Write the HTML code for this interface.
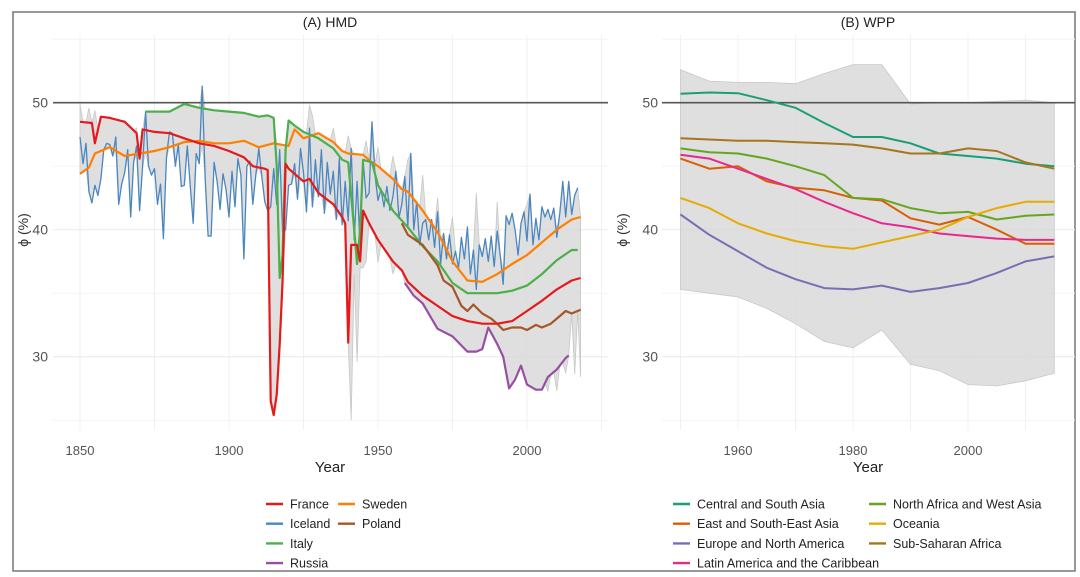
<!DOCTYPE html>
<html><head><meta charset="utf-8"><style>
body{margin:0;background:#fff}
svg{display:block;font-family:"Liberation Sans",sans-serif}
</style></head><body>
<svg id="c" width="1080" height="577" viewBox="0 0 1080 577">
<rect x="13" y="12" width="1062" height="559" fill="#fff" stroke="#777" stroke-width="1.5"/>
<g id="pa"></g>
<g id="pb"></g>
<g id="legA"></g>
<g id="legB"></g>
</svg>
<script>
// ===== Panel A data (HMD) =====
const franceYears=[1850,1854,1855,1857,1860,1865,1869,1870,1871,1875,1880,1885,1890,1895,1900,1905,1908,1912,1913,1914,1915,1916,1917,1918,1919,1920,1925,1927,1930,1935,1938,1939,1940,1941,1943,1944,1945,1947,1950,1955,1958,1960,1965,1970,1975,1980,1985,1990,1995,2000,2005,2010,2015,2018];
const franceVals=[48.5,48.4,46.8,48.9,48.8,48.5,47.6,45.6,47.9,47.7,47.6,47.2,46.8,46.6,46.2,45.7,45.0,44.8,44.7,26.5,25.4,27,31,36,45.2,44.8,43.8,44,42.9,42,41,40.5,31.1,38.8,38.8,37.5,41.5,40.5,39.2,37.5,36.8,35.9,34.8,34.0,33.2,32.8,32.6,32.6,32.8,33.6,34.4,35.3,36.0,36.2];
const italyYears=[1872,1875,1880,1885,1890,1895,1900,1905,1910,1913,1915,1916,1917,1918,1919,1920,1922,1925,1930,1935,1938,1940,1942,1943,1944,1945,1948,1950,1955,1960,1965,1970,1975,1980,1985,1990,1995,2000,2005,2010,2015,2017];
const italyVals=[49.3,49.3,49.3,49.9,49.6,49.4,49.3,49.2,48.9,49,48.8,45,36.2,38,46.3,48.6,48.2,47.7,47.2,46.4,45.5,45.3,40,37.3,40,45.5,45.3,43.5,41.5,40.2,38.7,37.5,35.8,35.0,35.0,35.0,35.2,35.6,36.5,37.6,38.4,38.4];
const swedenYears=[1850,1853,1855,1860,1865,1870,1875,1880,1885,1890,1895,1900,1905,1910,1915,1920,1922,1925,1930,1935,1938,1940,1945,1948,1950,1955,1958,1960,1965,1970,1975,1980,1985,1990,1995,2000,2005,2010,2015,2018];
const swedenVals=[44.4,44.9,46,46.5,45.8,46.0,46.2,46.5,46.9,47.0,46.8,46.8,47.0,46.5,46.8,46.6,47.9,47.2,47.6,46.9,46.2,46.0,45.9,45.3,45.0,44.0,43.2,43.0,41.5,39.8,37.5,36.0,35.9,36.5,37.3,38.0,39.0,40.0,40.8,41.0];
const polandYears=[1958,1960,1965,1970,1972,1975,1978,1980,1982,1985,1988,1990,1992,1995,1998,2000,2003,2005,2008,2010,2013,2015,2018];
const polandVals=[40.5,39.6,38.8,37.2,36.0,35.5,34.0,33.6,34.1,33.4,33.0,32.6,32.1,32.3,32.3,32.1,32.5,32.3,32.6,33.0,33.6,33.4,33.7];
const russiaYears=[1959,1962,1965,1970,1975,1980,1983,1985,1987,1990,1992,1994,1996,1998,2000,2003,2005,2007,2010,2013,2014];
const russiaVals=[35.8,34.8,34.2,32.2,31.6,30.4,30.4,30.6,32.3,31.0,30.0,27.5,28.2,29.3,27.8,27.4,27.4,28.4,29.0,29.9,30.1];
const icelandStart=1850;
const icelandVals=[47.3,45.2,46.8,43,42.1,43.5,42.7,44,46.3,46.8,46.7,45.8,47.3,42,43.6,44.5,46.3,41,45.3,46.6,41.5,45,49.3,45,44.3,44.8,42,43.6,39.3,45.6,47.7,47.6,45,46.7,43.4,43.5,46.6,43.4,40.5,46,45.2,51.3,44,39.5,39.5,45.3,43.8,41.6,44.4,43.2,41,44.6,41.8,45.6,44.3,37.7,45,45.4,42,44.3,46.4,44.2,42.2,41.5,41.8,44.8,42,46.3,39.8,40,43.5,43.6,45.2,42.4,46.4,44.5,41.4,48.0,41.8,45.5,42.6,46.3,41.3,45.3,42.8,44.6,40.8,45.6,40.4,43.8,40.7,46.4,39.2,43.8,38.7,45.5,42.5,42.9,48.5,44.3,42.3,43.2,41.8,43.4,41.5,42.6,44.6,40.9,42.0,44.2,40.2,46.0,40,42.2,38.8,40.5,40.8,39.2,40.8,38.6,41.4,37.3,39.7,37.7,39.6,37.3,38.3,37,39.4,37.7,40.2,36.5,38.4,35.3,38.8,37.9,39.3,37.5,39.5,37.1,39.9,38.0,35.7,41.1,40.4,41.3,40.0,38.0,40.5,41.4,39.1,42.8,38.8,40.9,39.2,41.8,41.0,41.6,40.8,41.7,39.4,41.3,43.8,41.0,43.8,41.2,42.7,43.3];
const bandHiYears=[1850,1853,1855,1860,1865,1869,1871,1927,1928,1935,1940,1946,1950,1955,1960,1965,1970,1975,1980,1983,1990,2000,2018];
const bandHiVals=[49.9,49.6,49.4,48.9,48.6,48.0,47.8,49.8,49.0,48.0,47.4,47.0,46.5,45.8,45.5,44.3,42.5,41.0,40.3,42.9,42.2,42.0,40.3];
const bandLoYears=[1940,1941,1942,1943,1944,1945,1946,1950,1955,2007,2010,2013,2016,2018];
const bandLoVals=[35,25,36.5,29.6,37,37,37.5,37.4,36.5,27.3,27.3,28.7,28.6,28.4];

// ===== Panel B data (WPP) =====
const wppYears=[1950,1955,1960,1965,1970,1975,1980,1985,1990,1995,2000,2005,2010,2015];
const centralSouthAsia=[50.7,50.8,50.75,50.2,49.6,48.4,47.3,47.3,46.8,46.0,45.8,45.6,45.2,45.0];
const subSaharanAfrica=[47.2,47.1,47.0,47.0,46.9,46.8,46.7,46.4,46.0,46.0,46.4,46.2,45.3,44.8];
const northAfricaWestAsia=[46.4,46.1,46.0,45.6,45.0,44.3,42.5,42.4,41.7,41.3,41.4,40.8,41.1,41.2];
const eastSouthEastAsia=[45.6,44.8,45.0,43.8,43.3,43.1,42.5,42.3,40.9,40.4,41.0,40.0,38.9,38.9];
const latinAmerica=[45.9,45.6,44.8,44.0,43.2,42.2,41.3,40.5,40.2,39.7,39.5,39.3,39.2,39.2];
const oceania=[42.5,41.7,40.5,39.7,39.1,38.7,38.5,39.0,39.5,40.0,41.0,41.7,42.2,42.2];
const europeNorthAmerica=[41.2,39.6,38.3,37.0,36.1,35.4,35.3,35.6,35.1,35.4,35.8,36.6,37.5,37.9];
const wppBandHi=[52.6,51.7,51.6,51.6,51.5,52.3,53.0,53.0,49.9,50.0,50.0,50.1,50.2,50.0];
const wppBandLo=[35.3,35.0,34.7,33.8,32.6,31.2,30.7,32.1,29.4,28.9,27.8,27.7,28.1,28.7];
const yTicks=[30,40,50];
const xTicksA=[1850,1900,1950,2000];
const xTicksB=[1960,1980,2000];

const NS="http://www.w3.org/2000/svg";
function mk(tag,attrs,parent){const e=document.createElementNS(NS,tag);for(const k in attrs)e.setAttribute(k,attrs[k]);parent.appendChild(e);return e;}
const yS=v=>102.7+(50-v)*12.7;
const xA=y=>80+(y-1850)*2.98;
const xB=y=>738+(y-1960)*5.75;
function interp(years,vals,y){if(y<years[0]||y>years[years.length-1])return null;for(let i=0;i<years.length-1;i++){if(y>=years[i]&&y<=years[i+1]){const t=(y-years[i])/(years[i+1]-years[i]);return vals[i]+t*(vals[i+1]-vals[i]);}}return vals[vals.length-1];}
function pathD(xs,ys){return xs.map((x,i)=>(i?'L':'M')+x.toFixed(1)+','+ys[i].toFixed(1)).join('');}

function panelFrame(g,x0,x1,xf,vx,xticks,title,titleX,ylabX,ytickX){
  // gridlines
  [25,35,45,55].forEach(v=>{const l=mk('line',{x1:x0,x2:x1,y1:yS(v),y2:yS(v),stroke:'#f3f3f3','stroke-width':1},g);
    
    });
  vx.forEach(y=>{const l=mk('line',{x1:xf(y),x2:xf(y),y1:35,y2:yS(24.2),stroke:'#f0f0f0','stroke-width':1},g);
    
    });
  yTicks.forEach(v=>{const l=mk('line',{x1:x0,x2:x1,y1:yS(v),y2:yS(v),stroke:'#ebebeb','stroke-width':1.2},g);
    
    
    const t=mk('text',{x:ytickX,y:yS(v)+5,'text-anchor':'end','font-size':14,fill:'#555'},g);t.textContent=v;
    
    });
  xticks.forEach(y=>{const t=mk('text',{x:xf(y),y:455,'text-anchor':'middle','font-size':13,fill:'#555'},g);t.textContent=y;
    
    });
  const tt=mk('text',{x:titleX,y:27,'text-anchor':'middle','font-size':14,fill:'#222'},g);tt.textContent=title;
  
  
  const xl=mk('text',{x:titleX,y:472,'text-anchor':'middle','font-size':15,fill:'#222'},g);xl.textContent='Year';
  
  
  const yl=mk('text',{x:ylabX,y:230,'text-anchor':'middle','font-size':14,fill:'#333',transform:`rotate(-90 ${ylabX} 230)`},g);yl.textContent='ϕ (%)';
  
  
}

// Panel A
const ga=document.getElementById('pa');
const vxA=[];for(let y=1850;y<=2025;y+=25)vxA.push(y);
panelFrame(ga,53,608,xA,vxA,xTicksA,'(A) HMD',330,28,48);
const seriesA=[
 {n:'France',ys:franceYears,vs:franceVals,c:'#e41a1c',w:2.2},
 {n:'Iceland',ys:icelandVals.map((v,i)=>icelandStart+i),vs:icelandVals,c:'#4a86c0',w:1.3},
 {n:'Italy',ys:italyYears,vs:italyVals,c:'#4daf4a',w:2.2},
 {n:'Russia',ys:russiaYears,vs:russiaVals,c:'#984ea3',w:2.2},
 {n:'Sweden',ys:swedenYears,vs:swedenVals,c:'#ff7f00',w:2.2},
 {n:'Poland',ys:polandYears,vs:polandVals,c:'#a65628',w:2.2}];
// band envelope
const hiX=[],hiY=[],loY=[];
for(let y=1850;y<=2018;y++){
  let hi=-1e9,lo=1e9;
  seriesA.forEach(s=>{const v=interp(s.ys,s.vs,y);if(v!==null){hi=Math.max(hi,v);lo=Math.min(lo,v);}});
  const ei=bandHiYears.indexOf(y);if(ei>=0)hi=Math.max(hi,bandHiVals[ei]);
  const li=bandLoYears.indexOf(y);if(li>=0)lo=Math.min(lo,bandLoVals[li]);
  hiX.push(xA(y));hiY.push(yS(hi));loY.push(yS(lo));
}
const bandA=mk('path',{d:pathD(hiX,hiY)+pathD(hiX.slice().reverse(),loY.slice().reverse()).replace('M','L')+'Z',fill:'#d9d9d9','fill-opacity':0.85,stroke:'#c8c8c8','stroke-width':0.8},ga);


const refA=mk('line',{x1:53,x2:608,y1:yS(50),y2:yS(50),stroke:'#555','stroke-width':1.6},ga);


[1,4,2,5,3,0].forEach(i=>{const s=seriesA[i];
  const p=mk('path',{d:pathD(s.ys.map(xA),s.vs.map(yS)),fill:'none',stroke:s.c,'stroke-width':s.w,'stroke-linejoin':'round'},ga);
  
  });

// Panel B
const gb=document.getElementById('pb');
const vxB=[];for(let y=1950;y<=2020;y+=10)vxB.push(y);
panelFrame(gb,662,1075,xB,vxB,xTicksB,'(B) WPP',868,627,658);
const bxs=wppYears.map(xB);
const bandB=mk('path',{d:pathD(bxs,wppBandHi.map(yS))+pathD(bxs.slice().reverse(),wppBandLo.slice().reverse().map(yS)).replace('M','L')+'Z',fill:'#d9d9d9','fill-opacity':0.85,stroke:'#c8c8c8','stroke-width':0.8},gb);


const refB=mk('line',{x1:662,x2:1075,y1:yS(50),y2:yS(50),stroke:'#555','stroke-width':1.6},gb);


const seriesB=[
 {n:'Central and South Asia',v:centralSouthAsia,c:'#1b9e77'},
 {n:'East and South-East Asia',v:eastSouthEastAsia,c:'#d95f02'},
 {n:'Europe and North America',v:europeNorthAmerica,c:'#7570b3'},
 {n:'Latin America and the Caribbean',v:latinAmerica,c:'#e7298a'},
 {n:'North Africa and West Asia',v:northAfricaWestAsia,c:'#66a61e'},
 {n:'Oceania',v:oceania,c:'#e6ab02'},
 {n:'Sub-Saharan Africa',v:subSaharanAfrica,c:'#a6761d'}];
seriesB.forEach(s=>{const p=mk('path',{d:pathD(bxs,s.v.map(yS)),fill:'none',stroke:s.c,'stroke-width':2,'stroke-linejoin':'round'},gb);
  
  });

// Legends
function legend(g,items,cols){
  items.forEach((it,i)=>{const [x,y]=cols(i);
    const l=mk('line',{x1:x,x2:x+17,y1:y,y2:y,stroke:it.c,'stroke-width':2.4},g);
    
    
    const t=mk('text',{x:x+24,y:y+4.5,'font-size':12.5,fill:'#222'},g);t.textContent=it.n;
    
    });
}
legend(document.getElementById('legA'),seriesA,i=>i<4?[266,504+i*19.7]:[338,504+(i-4)*19.7]);
legend(document.getElementById('legB'),seriesB,i=>i<4?[673,504+i*19.7]:[869,504+(i-4)*19.7]);
</script>
</body></html>
